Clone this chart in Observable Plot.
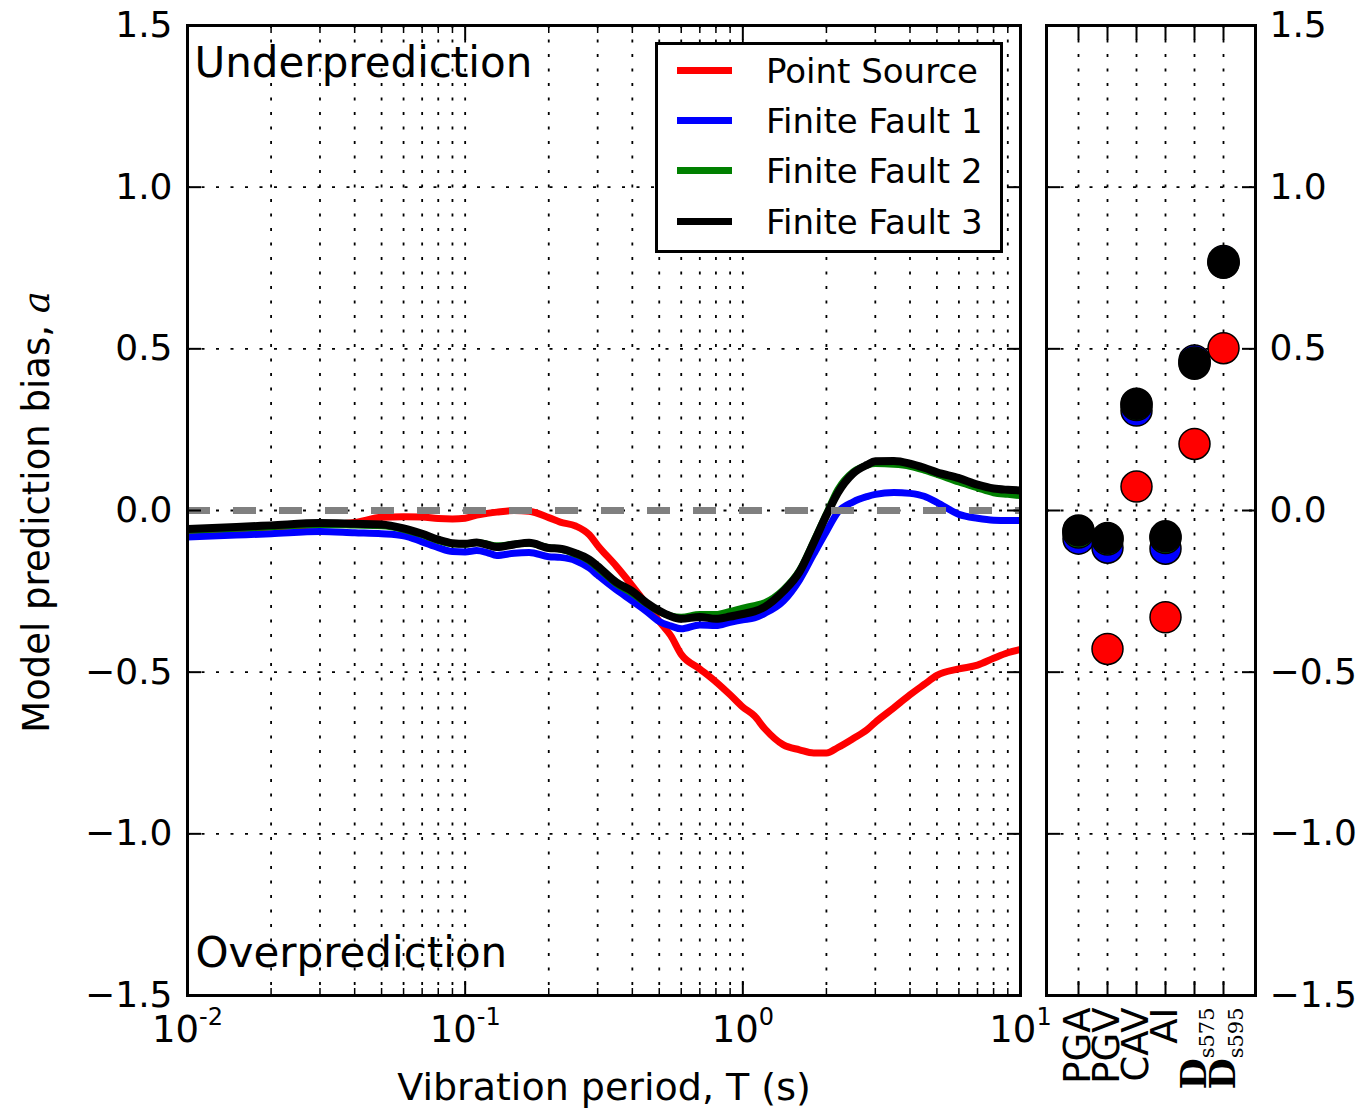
<!DOCTYPE html>
<html>
<head>
<meta charset="utf-8">
<script src="https://cdn.jsdelivr.net/npm/d3@7"></script>
<script src="https://cdn.jsdelivr.net/npm/@observablehq/plot@0.6"></script>
<style>
  body { margin: 0; background: #fff; font-family: "DejaVu Sans", sans-serif; }
  #wrap { position: relative; width: 1366px; height: 1113px; overflow: hidden; background: #fff; }
  #wrap svg { position: absolute; top: 0; }
  #legend { position: absolute; left: 655px; top: 42px; width: 348px; height: 211px; box-sizing: border-box;
            border: 3px solid #000; background: #fff; }
  .sw { position: absolute; left: 19px; width: 55px; height: 7px; }
  .lt { position: absolute; left: 108px; height: 40px; line-height: 40px; font-size: 34px; white-space: nowrap; color: #000; }
</style>
</head>
<body>
<div id="wrap"></div>
<script>
// ---------------- data ----------------
const periods = [0.01,0.015,0.02,0.03,0.04,0.05,0.06,0.07,0.08,0.09,0.1,0.11,0.12,0.13,0.15,0.17,0.2,0.22,0.25,0.28,0.3,0.35,0.4,0.45,0.5,0.55,0.6,0.7,0.8,0.9,1.0,1.1,1.2,1.4,1.6,1.8,2.0,2.2,2.5,2.8,3.0,3.5,4.0,4.5,5.0,6.0,7.0,8.0,9.0,10.0];
const pointSource = [-0.063,-0.057,-0.051,-0.044,-0.037,-0.021,-0.019,-0.020,-0.025,-0.026,-0.024,-0.014,-0.009,-0.005,0.000,-0.002,-0.022,-0.036,-0.048,-0.075,-0.108,-0.172,-0.233,-0.290,-0.343,-0.387,-0.445,-0.490,-0.530,-0.570,-0.608,-0.635,-0.675,-0.725,-0.740,-0.750,-0.750,-0.733,-0.705,-0.678,-0.655,-0.610,-0.570,-0.538,-0.510,-0.490,-0.478,-0.457,-0.440,-0.430];
const finiteFault1 = [-0.082,-0.076,-0.072,-0.065,-0.069,-0.072,-0.078,-0.097,-0.115,-0.127,-0.128,-0.124,-0.130,-0.139,-0.132,-0.130,-0.143,-0.145,-0.155,-0.178,-0.200,-0.245,-0.280,-0.312,-0.343,-0.357,-0.366,-0.354,-0.356,-0.346,-0.338,-0.332,-0.318,-0.280,-0.215,-0.135,-0.065,-0.005,0.027,0.043,0.050,0.056,0.053,0.044,0.025,-0.012,-0.024,-0.030,-0.031,-0.031];
const finiteFault2 = [-0.061,-0.055,-0.050,-0.043,-0.045,-0.047,-0.058,-0.075,-0.093,-0.103,-0.104,-0.099,-0.104,-0.109,-0.104,-0.101,-0.115,-0.119,-0.135,-0.156,-0.177,-0.226,-0.256,-0.288,-0.313,-0.326,-0.330,-0.322,-0.322,-0.312,-0.302,-0.294,-0.285,-0.245,-0.185,-0.095,-0.010,0.065,0.120,0.140,0.145,0.143,0.137,0.125,0.112,0.088,0.070,0.055,0.050,0.046];
const finiteFault3 = [-0.057,-0.051,-0.046,-0.039,-0.041,-0.043,-0.055,-0.072,-0.090,-0.101,-0.103,-0.099,-0.106,-0.113,-0.105,-0.100,-0.116,-0.118,-0.132,-0.152,-0.172,-0.222,-0.250,-0.285,-0.310,-0.327,-0.335,-0.329,-0.335,-0.328,-0.320,-0.312,-0.298,-0.250,-0.190,-0.100,-0.015,0.055,0.115,0.141,0.152,0.153,0.145,0.132,0.118,0.100,0.080,0.068,0.064,0.062];

const seriesNames = ["Point Source", "Finite Fault 1", "Finite Fault 2", "Finite Fault 3"];
const seriesColors = ["#ff0000", "#0000ff", "#008000", "#000000"];

const imCategories = ["PGA", "PGV", "CAV", "AI", "Ds575", "Ds595"];
const imPointSource = [-0.065, -0.428, 0.074, -0.330, 0.206, 0.502];
const imFiniteFault1 = [-0.087, -0.115, 0.309, -0.118, 0.464, 0.772];
const imFiniteFault2 = [-0.068, -0.090, 0.326, -0.085, 0.458, 0.768];
const imFiniteFault3 = [-0.062, -0.085, 0.330, -0.080, 0.454, 0.766];

const xMajorTicks = [0.01, 0.1, 1, 10];
const yTicks = [-1.5, -1.0, -0.5, 0.0, 0.5, 1.0, 1.5];
const yGrid = [-1.0, -0.5, 0.0, 0.5, 1.0];

const xLabel = "Vibration period, T (s)";
const yLabel = "Model prediction bias, ";
const topNote = "Underprediction";
const bottomNote = "Overprediction";

// ---------------- helpers ----------------
const xMinorTicks = [0.01, 0.1, 1].flatMap(d => d3.range(2, 10).map(k => d * k));
const xGridTicks = [...xMinorTicks, 0.1, 1];
const fmtY = d => (d < 0 ? "\u2212" : "") + Math.abs(d).toFixed(1);
const blank = () => "";
const gridStyle = {stroke: "#000", strokeWidth: 1.8, strokeDasharray: "3,11.5", strokeOpacity: 1};
const font = "DejaVu Sans";

const curves = [pointSource, finiteFault1, finiteFault2, finiteFault3];
const ims = [imPointSource, imFiniteFault1, imFiniteFault2, imFiniteFault3];

// ---------------- left panel ----------------
const left = Plot.plot({
  width: 1366, height: 1113,
  marginLeft: 187, marginRight: 346, marginTop: 25, marginBottom: 118,
  style: {fontFamily: font, background: "transparent", overflow: "visible"},
  x: {type: "log", domain: [0.01, 10], label: null},
  y: {domain: [-1.5, 1.5], label: null},
  marks: [
    Plot.ruleX(xGridTicks, gridStyle),
    Plot.ruleY(yGrid, gridStyle),
    ...curves.map((vals, s) => Plot.line(periods.map((T, i) => ({T, a: vals[i]})), {
      x: "T", y: "a", stroke: seriesColors[s], strokeWidth: s === 3 ? 8 : 7,
      strokeLinejoin: "round", strokeLinecap: "butt", curve: "monotone-x"
    })),
    Plot.ruleY([0], {stroke: "#808080", strokeWidth: 7, strokeDasharray: "23,23"}),
    Plot.frame({stroke: "#000", strokeWidth: 3}),
    Plot.axisY(yTicks, {anchor: "left", tickSize: -14, tickPadding: 29, tickFormat: fmtY, fontSize: 36, strokeWidth: 2, label: null}),
    Plot.axisY(yTicks, {anchor: "right", tickSize: -14, tickFormat: blank, strokeWidth: 2, label: null}),
    Plot.axisX(xMajorTicks, {anchor: "bottom", tickSize: -14, tickPadding: 34, fontSize: 37, strokeWidth: 2, label: null,
      tickFormat: d => "10|" + Math.round(Math.log10(d))}),
    Plot.axisX(xMajorTicks, {anchor: "top", tickSize: -14, tickFormat: blank, strokeWidth: 2, label: null}),
    Plot.axisX(xMinorTicks, {anchor: "bottom", tickSize: -7, tickFormat: blank, strokeWidth: 1.5, label: null}),
    Plot.axisX(xMinorTicks, {anchor: "top", tickSize: -7, tickFormat: blank, strokeWidth: 1.5, label: null}),
    Plot.text([topNote], {text: d => d, frameAnchor: "top-left", dx: 7, dy: 22, lineAnchor: "top", textAnchor: "start", fontSize: 42}),
    Plot.text([bottomNote], {text: d => d, frameAnchor: "bottom-left", dx: 8, dy: -58, lineAnchor: "top", textAnchor: "start", fontSize: 42}),
    Plot.text([xLabel], {text: d => d, frameAnchor: "bottom", dy: 78, lineAnchor: "top", fontSize: 38})
  ]
});

// ---------------- right panel ----------------
const right = Plot.plot({
  width: 336, height: 1113,
  marginLeft: 16, marginRight: 111, marginTop: 25, marginBottom: 118,
  style: {fontFamily: font, background: "transparent", overflow: "visible"},
  x: {type: "point", domain: imCategories, padding: 1, label: null},
  y: {domain: [-1.5, 1.5], label: null},
  marks: [
    Plot.ruleX(imCategories, gridStyle),
    Plot.ruleY(yGrid, gridStyle),
    ...ims.map((vals, s) => Plot.dot(imCategories.map((c, i) => ({c, a: vals[i]})), {
      x: "c", y: "a", r: 15.5, fill: seriesColors[s], stroke: "#000", strokeWidth: 1.5
    })),
    Plot.frame({stroke: "#000", strokeWidth: 3}),
    Plot.axisY(yTicks, {anchor: "right", tickSize: -14, tickPadding: 28, tickFormat: fmtY, fontSize: 36, strokeWidth: 2, label: null}),
    Plot.axisY(yTicks, {anchor: "left", tickSize: -14, tickFormat: blank, strokeWidth: 2, label: null}),
    Plot.axisX(imCategories, {anchor: "bottom", tickSize: -14, tickPadding: 26, tickRotate: -90, fontSize: 37, strokeWidth: 2, label: null}),
    Plot.axisX(imCategories, {anchor: "top", tickSize: -14, tickFormat: blank, strokeWidth: 2, label: null})
  ]
});
right.style.left = "1030px";
left.style.left = "0px";

const wrap = document.getElementById("wrap");
wrap.appendChild(left);
wrap.appendChild(right);

// superscript exponents on log tick labels
d3.select(left).selectAll('g[aria-label="x-axis tick label"] text').each(function () {
  const s = this.textContent;
  if (!s.includes("|")) return;
  const [b, e] = s.split("|");
  const t = d3.select(this).text(null);
  t.append("tspan").text(b);
  t.append("tspan").attr("font-size", 24).attr("dy", -17).text(e);
});

// subscripted duration labels
d3.select(right).selectAll('g[aria-label="x-axis tick label"] text').each(function () {
  const s = this.textContent;
  if (!s.startsWith("Ds")) return;
  const t = d3.select(this).text(null);
  t.append("tspan").attr("font-family", "DejaVu Serif").attr("font-weight", "bold").attr("font-size", 36).text("D");
  t.append("tspan").attr("font-family", "DejaVu Serif").attr("font-size", 21).attr("dy", 8).text(s.slice(1));
});

// y-axis title with italic symbol
const yl = d3.select(left).append("text")
  .attr("transform", "translate(49,512) rotate(-90)")
  .attr("text-anchor", "middle").attr("font-size", 37).attr("font-family", font).attr("fill", "#000");
yl.append("tspan").text(yLabel);
yl.append("tspan").attr("font-family", "DejaVu Serif").attr("font-style", "italic").text("a");

// legend
const legend = document.createElement("div");
legend.id = "legend";
const rowCenters = [25, 75.4, 125.8, 176.2];
seriesNames.forEach((name, i) => {
  const sw = document.createElement("div");
  sw.className = "sw";
  sw.style.top = (rowCenters[i] - 3.5) + "px";
  sw.style.background = seriesColors[i];
  legend.appendChild(sw);
  const lt = document.createElement("div");
  lt.className = "lt";
  lt.style.top = (rowCenters[i] - 19.5) + "px";
  lt.textContent = name;
  legend.appendChild(lt);
});
wrap.appendChild(legend);
</script>
</body>
</html>
